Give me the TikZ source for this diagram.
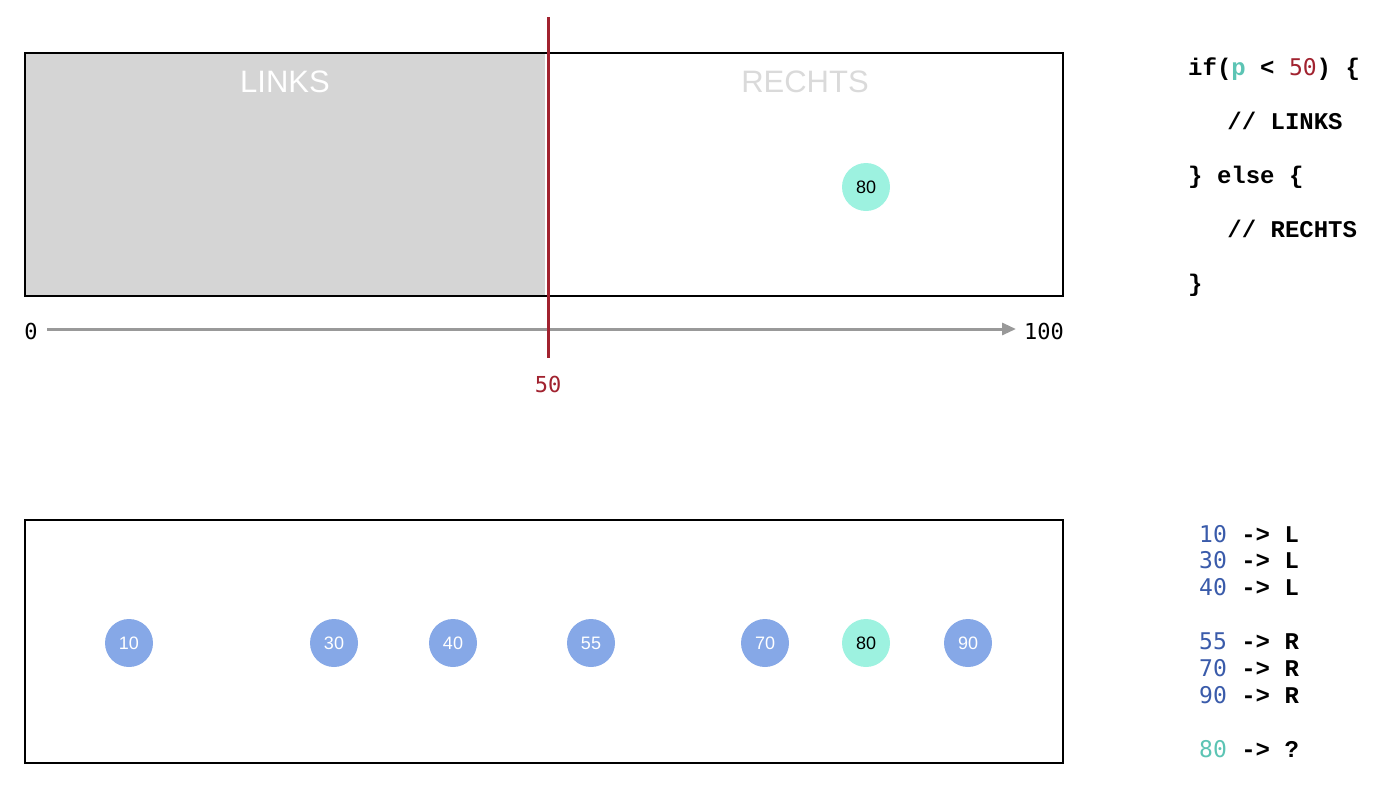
\documentclass[tikz,border=0pt]{standalone}
\usepackage{fontspec}
\setmainfont{Liberation Sans}
\newfontfamily\codefont{Liberation Mono}
\newfontfamily\numfont{DejaVu Sans Mono}
\usetikzlibrary{arrows.meta}
\definecolor{boxgray}{HTML}{D5D5D5}
\definecolor{rechtsgray}{HTML}{DADADA}
\definecolor{redline}{HTML}{A1222F}
\definecolor{mint}{HTML}{9DF2E0}
\definecolor{blueball}{HTML}{86A8E7}
\definecolor{bluetext}{HTML}{3A5BAA}
\definecolor{tealtext}{HTML}{5CC4B4}
\definecolor{axisgray}{HTML}{999999}
\newcommand{\numtxt}[2]{\textcolor{#1}{\numfont\mdseries\fontsize{23}{23}\selectfont #2}}
\tikzset{
  ball/.style={circle, minimum size=48pt, inner sep=0pt, font=\fontsize{18}{18}\selectfont},
  blueb/.style={ball, fill=blueball, text=white},
  mintb/.style={ball, fill=mint, text=black},
  codeline/.style={anchor=base west, inner sep=0pt, font=\codefont\bfseries\fontsize{24}{24}\selectfont},
  frame/.style={draw=black, line width=2pt},
  title/.style={font=\fontsize{31}{31}\selectfont, anchor=base, inner sep=0pt},
  axlabel/.style={font=\numfont\fontsize{22}{22}\selectfont, inner sep=0pt},
}
\begin{document}
\begin{tikzpicture}[x=1pt,y=-1pt]
\useasboundingbox (0,0) rectangle (1388,788);
% top box
\fill[boxgray] (25,53) rectangle (545,296);
\draw[frame] (25,53) rectangle (1063,296);
\node[title, text=white] (links) at (285,92) {LINKS};
\node[title, text=rechtsgray] (rechts) at (805,92) {RECHTS};
\node[mintb] (t80) at (866,187) {80};
% axis
\node[axlabel] (zero) at (31,331) {0};
\node[axlabel, anchor=west] (hundred) at (1024,331) {100};
\coordinate (axs) at (47,329);
\coordinate (axe) at (1016,329);
\draw[axisgray, line width=3pt, -{Triangle[length=14pt,width=12pt]}] (axs) -- (axe);
% red split line
\coordinate (rtop) at (548,17);
\coordinate (rbot) at (548,358);
\draw[redline, line width=3pt] (rtop) -- (rbot);
\node[axlabel, text=redline] (fifty) at (548,384) {50};
% code
\node[codeline] (c1) at (1188,75) {if(\textcolor{tealtext}{p} < \numtxt{redline}{50}) \{};
\node[codeline] (c2) at (1184,129) {\ \ \ // LINKS};
\node[codeline] (c3) at (1188,183) {\} else \{};
\node[codeline] (c4) at (1184,237) {\ \ \ // RECHTS};
\node[codeline] (c5) at (1188,291) {\}};
% bottom box
\draw[frame] (25,520) rectangle (1063,763);
\node[blueb] (b10) at (129,643) {10};
\node[blueb] (b30) at (334,643) {30};
\node[blueb] (b40) at (453,643) {40};
\node[blueb] (b55) at (591,643) {55};
\node[blueb] (b70) at (765,643) {70};
\node[mintb] (b80) at (866,643) {80};
\node[blueb] (b90) at (968,643) {90};
% list
\node[codeline] (l1) at (1199,542) {\numtxt{bluetext}{10} -> L};
\node[codeline] (l2) at (1199,568) {\numtxt{bluetext}{30} -> L};
\node[codeline] (l3) at (1199,595) {\numtxt{bluetext}{40} -> L};
\node[codeline] (l4) at (1199,649) {\numtxt{bluetext}{55} -> R};
\node[codeline] (l5) at (1199,676) {\numtxt{bluetext}{70} -> R};
\node[codeline] (l6) at (1199,703) {\numtxt{bluetext}{90} -> R};
\node[codeline] (l7) at (1199,757) {\numtxt{tealtext}{80} -> ?};
\end{tikzpicture}
\end{document}
